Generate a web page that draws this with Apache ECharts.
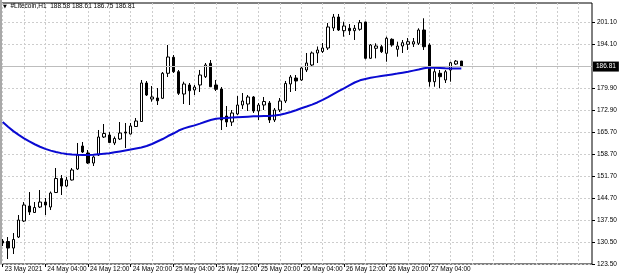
<!DOCTYPE html>
<html><head><meta charset="utf-8">
<script src="https://cdn.jsdelivr.net/npm/echarts@6/dist/echarts.min.js"></script>
<style>html,body{margin:0;padding:0;background:#fff}#c{width:620px;height:279px}</style>
</head><body><div id="c"></div>
<script>
const symbolName = '#Litecoin,H1';
const totalSlots = 111;          // bars + empty space to the right (chart shift)
const startDay = 23, startHour = 20;
const tickLabels = ['23 May 2021','24 May 04:00','24 May 12:00','24 May 20:00','25 May 04:00','25 May 12:00','25 May 20:00','26 May 04:00','26 May 12:00','26 May 20:00','27 May 04:00'];
const yTickValues = [123.5,130.5,137.5,144.7,151.7,158.7,165.7,172.9,179.9,194.1,201.1];

const opens = [130.87,130.71,128.62,132.15,137.28,142.09,140.01,141.77,143.37,141.77,
146.42,150.91,148.50,150.43,153.96,161.33,159.09,155.88,158.45,164.22,
164.86,162.30,163.58,165.82,165.18,167.59,169.19,181.54,176.41,176.73,
176.63,184.65,189.78,185.16,178.01,180.90,179.29,180.90,183.56,187.85,
180.90,179.61,170.95,169.03,171.60,174.48,174.80,177.05,172.56,174.48,
175.12,169.67,172.88,175.76,181.22,183.14,182.50,185.71,187.31,191.16,
191.64,192.76,199.17,202.70,198.31,199.08,198.31,198.76,201.10,189.46,
192.67,193.17,191.06,195.55,192.34,193.40,193.95,194.04,194.27,198.53,
193.72,181.95,184.65,182.50,185.71,187.63,188.58];
const closes = [130.23,128.62,131.35,137.60,142.41,140.17,141.61,143.37,142.41,146.26,
150.91,148.50,150.43,153.64,158.45,159.41,155.88,157.81,164.22,165.34,
162.46,163.74,165.50,165.50,167.75,169.35,181.54,177.69,177.05,175.86,
184.65,189.87,185.16,178.23,181.22,179.07,180.25,184.10,187.31,180.35,
179.52,169.67,169.03,171.92,174.48,175.76,177.05,172.56,174.48,175.60,
169.67,172.88,175.76,181.38,183.46,182.18,186.35,187.95,191.16,192.12,
192.76,199.50,202.70,198.53,199.82,198.31,199.08,200.88,189.46,193.72,
193.40,191.57,195.87,193.72,193.40,194.46,194.78,194.78,198.53,193.17,
181.95,185.16,183.56,185.16,188.05,188.55,186.81];
const highs = [131.51,132.15,133.43,139.21,143.37,146.58,143.37,147.22,144.66,146.74,
154.28,152.03,151.39,154.28,162.30,162.62,160.05,158.29,166.47,168.39,
165.82,164.38,169.03,168.71,168.71,170.31,182.50,182.18,180.57,179.93,
185.06,193.72,190.52,185.71,181.95,181.54,180.90,185.71,187.95,188.91,
182.50,180.25,174.16,172.88,177.37,178.33,177.69,177.37,175.12,177.05,
175.76,173.52,176.73,182.18,184.10,184.10,186.99,191.16,191.64,193.24,
194.36,200.78,203.67,203.67,201.20,200.46,200.14,201.74,201.20,194.04,
194.27,193.72,196.39,195.87,194.78,195.33,195.97,195.97,199.08,202.29,
194.27,186.25,185.71,185.71,188.37,188.91,188.61];
const lows = [129.26,125.09,126.70,131.83,136.96,139.21,139.85,141.45,139.21,140.81,
146.26,145.62,148.18,150.27,153.64,159.09,155.56,154.92,158.13,163.90,
162.30,161.65,163.26,160.69,165.02,167.43,169.03,177.37,175.54,174.48,
176.41,183.46,184.74,177.69,174.80,174.48,177.69,178.65,183.14,180.25,
178.97,166.46,167.43,167.75,171.27,173.20,172.56,171.92,169.67,172.88,
168.71,169.03,172.24,175.12,178.65,178.97,182.18,185.06,186.67,187.95,
191.16,192.12,198.21,198.21,196.39,196.93,195.33,198.31,189.14,189.23,
189.46,191.16,188.37,193.17,189.97,191.16,192.12,193.08,193.72,192.12,
180.35,180.35,179.84,181.54,181.95,187.31,186.75];
const maValues = [169.00,167.50,166.10,164.90,163.80,162.80,161.90,161.10,160.40,159.85,
159.40,159.05,158.80,158.62,158.50,158.45,158.45,158.55,158.70,158.85,
159.00,159.30,159.60,159.90,160.20,160.53,160.85,161.33,161.97,162.78,
163.58,164.54,165.34,166.30,167.00,167.50,167.95,168.50,169.10,169.65,
170.05,170.25,170.35,170.45,170.55,170.65,170.75,170.85,170.90,170.93,
170.95,171.10,171.35,171.75,172.25,172.80,173.45,174.00,174.60,175.30,
176.10,177.00,177.95,178.90,179.85,180.80,181.70,182.40,182.85,183.20,
183.50,183.80,184.05,184.30,184.55,184.85,185.15,185.50,185.85,186.25,
186.50,186.45,186.35,186.25,186.20,186.20,186.20];

const categories = [];
for (let i = 0; i < totalSlots; i++) {
  const h = startHour + i;
  categories.push('May ' + (startDay + Math.floor(h / 24)) + ' ' + String(h % 24).padStart(2, '0') + ':00');
}
const candleData = opens.map((o, i) => [o, closes[i], lows[i], highs[i]]);
const last = opens.length - 1;
const lastPrice = closes[last];
const FONT = 'Liberation Sans';
const grid = {color: '#cdcdcd', type: [2, 2], width: 1};
const labelIdx = (i) => i % 8 === 0 && i / 8 < tickLabels.length;

const chart = echarts.init(document.getElementById('c'), null, {renderer: 'canvas'});
chart.setOption({
  animation: false,
  backgroundColor: '#fff',
  title: {
    text: '{a|▼}  ' + symbolName + '  ' + [opens[last], highs[last], lows[last], closes[last]].map(v => v.toFixed(2)).join(' '),
    left: 3, top: 3, padding: 0,
    textStyle: {fontSize: 6.5, fontWeight: 'normal', color: '#000', fontFamily: FONT,
      rich: {a: {fontSize: 5, fontFamily: 'DejaVu Sans', color: '#000'}}}
  },
  graphic: [{type: 'rect', left: 0, top: 0, shape: {width: 2, height: 264}, style: {fill: '#a8a8a8'}, z: 100}],
  grid: {left: -1, right: 28, top: 3, bottom: 15, show: true, borderColor: '#000', borderWidth: 1},
  xAxis: {
    type: 'category', data: categories, boundaryGap: true,
    axisLine: {show: false},
    axisTick: {show: true, alignWithLabel: true, interval: labelIdx, length: 3, lineStyle: {color: '#000'}},
    axisLabel: {interval: labelIdx, formatter: (v, i) => tickLabels[i / 8], align: 'left', margin: 2,
      fontSize: 6.5, color: '#000', fontFamily: FONT, padding: [0, 0, 0, 2]},
    splitLine: {show: true, alignWithLabel: true, interval: (i) => i % 4 === 0, lineStyle: grid}
  },
  yAxis: {
    type: 'value', position: 'right', min: 123.5, max: 207.19,
    axisLine: {show: false},
    axisTick: {show: true, customValues: yTickValues, length: 3, lineStyle: {color: '#000'}},
    axisLabel: {customValues: yTickValues, formatter: v => v.toFixed(2), margin: 5, fontSize: 6.5, color: '#000', fontFamily: FONT},
    splitLine: {show: true, lineStyle: grid}
  },
  series: [{
    type: 'candlestick', data: candleData, barWidth: 3, z: 2,
    itemStyle: {color: '#fff', color0: '#000', borderColor: '#000', borderColor0: '#000', borderWidth: 1},
    markLine: {
      symbol: 'none', silent: true, animation: false,
      data: [{yAxis: lastPrice}],
      lineStyle: {color: '#bdbdbd', type: 'solid', width: 1},
      label: {show: true, position: 'end', formatter: lastPrice.toFixed(2), color: '#fff', backgroundColor: '#000',
        fontSize: 6.5, fontFamily: FONT, padding: [2, 3, 1, 3], distance: 1}
    }
  }, {
    type: 'line', data: maValues, symbol: 'none', z: 3,
    lineStyle: {color: '#0a0ad2', width: 2}
  }]
});
</script></body></html>
